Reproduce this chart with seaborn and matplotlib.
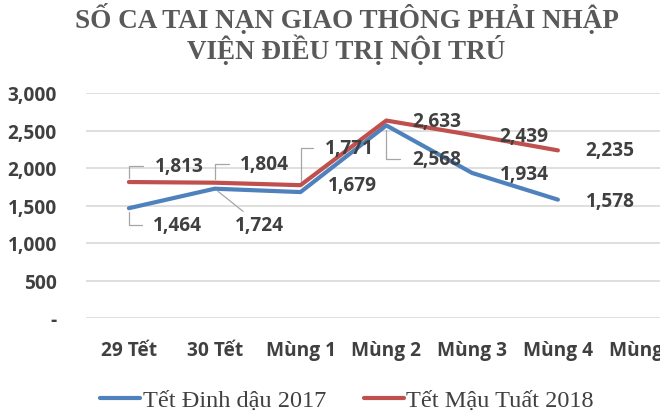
import matplotlib
matplotlib.use("Agg")
import matplotlib.pyplot as plt
import seaborn as sns
import pandas as pd

## chart data
days = ["29 Tết", "30 Tết", "Mùng 1", "Mùng 2", "Mùng 3", "Mùng 4", "Mùng 5"]
series_2017 = "Tết Đinh dậu 2017"
series_2018 = "Tết Mậu Tuất 2018"
values_2017 = [1464, 1724, 1679, 2568, 1934, 1578]
values_2018 = [1813, 1804, 1771, 2633, 2439, 2235]
yticks = [0, 500, 1000, 1500, 2000, 2500, 3000]
ytick_labels = ["-", "500", "1,000", "1,500", "2,000", "2,500", "3,000"]
title = "SỐ CA TAI NẠN GIAO THÔNG PHẢI NHẬP\nVIỆN ĐIỀU TRỊ NỘI TRÚ"

## label placement (pixel offsets from the point) and leader style
off_2017 = [(49, -17), (45, -36), (52, 7), (50, -34), (52, -1), (52, -1)]
off_2018 = [(50, 16), (50, 19), (49, 37), (50, 0), (52, -1), (52, 0)]
lead_2017 = ["angle", "line", None, "angle", None, None]
lead_2018 = ["angle", "angle", "angle", None, None, None]

blue = "#4F81BD"
red = "#C0504D"
txt = "#404040"
grid = "#D9D9D9"
lblfont = ["Open Sans", "DejaVu Sans"]
fs = 13.8

rows = []
for i, v in enumerate(values_2017):
    rows.append({"day": days[i], "val": v, "s": series_2017})
for i, v in enumerate(values_2018):
    rows.append({"day": days[i], "val": v, "s": series_2018})
df = pd.DataFrame(rows)

sns.set_theme(style="white")
plt.rcParams["font.family"] = lblfont

fig = plt.figure(figsize=(6.6, 4.14), dpi=100)
ax = fig.add_axes([86 / 660, 1 - 319 / 414, 7 * 85.8 / 660, 225 / 414])

sns.lineplot(data=df, x="day", y="val", hue="s", sort=False,
             palette={series_2017: blue, series_2018: red},
             linewidth=3.0, ax=ax)

ax.set_xlim(-0.5, len(days) - 0.5)
ax.set_ylim(0, 3000)
ax.set_xticks(range(len(days)))
ax.set_xticklabels(days, fontsize=fs, fontweight="bold", color=txt)
ax.set_yticks(yticks)
ax.set_yticklabels(ytick_labels, fontsize=fs, fontweight="bold", color=txt)
ax.tick_params(axis="x", length=0, pad=16)
ax.tick_params(axis="y", length=0, pad=21)
ax.set_xlabel("")
ax.set_ylabel("")
for sp in ax.spines.values():
    sp.set_visible(False)
ax.yaxis.grid(True, color=grid, linewidth=1.2)
ax.set_axisbelow(True)


def put_labels(vals, offs, leads):
    for i, v in enumerate(vals):
        dx, dy = offs[i]
        kw = {}
        if leads[i] == "angle":
            kw["arrowprops"] = dict(arrowstyle="-", color="#A6A6A6", lw=0.9,
                                    connectionstyle="angle,angleA=0,angleB=90,rad=0",
                                    shrinkA=6, shrinkB=3)
        elif leads[i] == "line":
            kw["arrowprops"] = dict(arrowstyle="-", color="#A6A6A6", lw=0.9,
                                    shrinkA=0, shrinkB=3)
        ax.annotate(f"{v:,}", xy=(i, v), xytext=(dx, dy), textcoords="offset pixels",
                    ha="center", va="center", fontsize=fs, fontweight="bold",
                    color=txt, **kw)


put_labels(values_2017, off_2017, lead_2017)
put_labels(values_2018, off_2018, lead_2018)

fig.text(0.525, 1 - 34 / 414, title, ha="center", va="center", fontsize=19.5,
         fontweight="bold", color="#595959", family="Liberation Serif",
         linespacing=1.0)

handles, labels = ax.get_legend_handles_labels()
ax.legend(handles, labels, loc="center left", bbox_to_anchor=(100 / 660, 1 - 401 / 414),
          bbox_transform=fig.transFigure, ncol=2, frameon=False, borderpad=0,
          borderaxespad=0, handlelength=1.65, handletextpad=0.1, columnspacing=1.55,
          prop={"family": "Liberation Serif", "size": 17.5}, labelcolor=txt)

fig.savefig("out.png", dpi=100)
